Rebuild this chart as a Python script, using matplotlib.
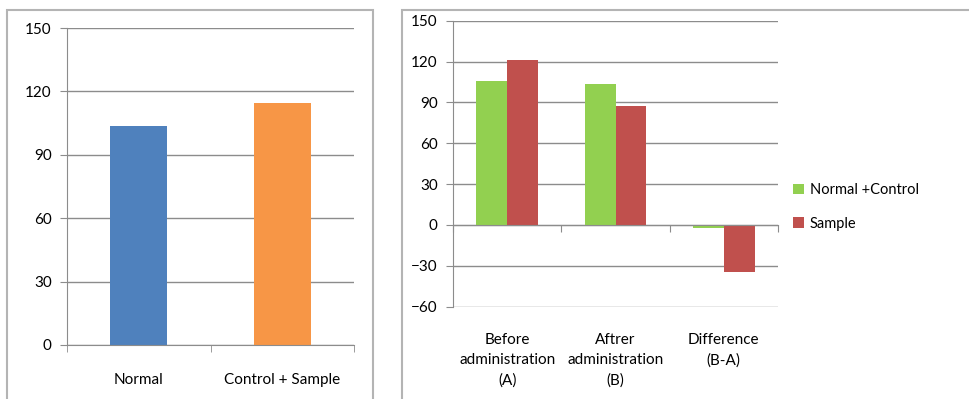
import matplotlib.pyplot as plt
from matplotlib.patches import Rectangle, Patch

# left chart: single series
left_cats = ["Normal", "Control + Sample"]
left_vals = [103.5, 114.5]
left_colors = ["#4F81BD", "#F79646"]

# right chart: two series per group
right_cats = ["Before\nadministration\n(A)", "Aftrer\nadministration\n(B)", "Difference\n(B-A)"]
normal_control = [106, 103.5, -2.5]
sample = [121.5, 87, -34.5]
series_names = ["Normal +Control", "Sample"]
series_colors = ["#92D050", "#C0504D"]

left_yticks = [0, 30, 60, 90, 120, 150]
right_yticks = [-60, -30, 0, 30, 60, 90, 120, 150]

GRID = "#8C8C8C"
AXIS = "#8C8C8C"
FRAME = "#B4B4B4"

plt.rcParams["font.family"] = ["Lato", "DejaVu Sans"]
plt.rcParams["font.size"] = 10.5

fig = plt.figure(figsize=(9.7, 3.99), dpi=100)

# chart frames
fig.add_artist(Rectangle((7 / 970, -0.02), 366 / 970, 1 - 10 / 399 + 0.02,
                         transform=fig.transFigure, fill=False, edgecolor=FRAME, lw=1.5))
fig.add_artist(Rectangle((402 / 970, -0.02), 0.7, 1 - 10 / 399 + 0.02,
                         transform=fig.transFigure, fill=False, edgecolor=FRAME, lw=1.5))


def style_axes(ax, yticks):
    for side in ["top", "right"]:
        ax.spines[side].set_visible(False)
    ax.spines["left"].set_color(AXIS)
    ax.spines["bottom"].set_color(AXIS)
    ax.set_yticks(yticks)
    ax.set_ylim(yticks[0], yticks[-1])
    ax.yaxis.grid(True, color=GRID, lw=1)
    ax.set_axisbelow(True)
    ax.tick_params(axis="y", direction="out", length=5, color=AXIS, colors="#000000",
                   pad=6, labelsize=11)


# left chart
ax1 = fig.add_axes([67 / 970, 54 / 399, 287 / 970, 317 / 399])
x1 = range(len(left_cats))
ax1.bar(x1, left_vals, width=0.4, color=left_colors, zorder=2)
style_axes(ax1, left_yticks)
ax1.set_xlim(-0.5, len(left_cats) - 0.5)
ax1.set_xticks([i - 0.5 for i in range(len(left_cats) + 1)], minor=True)
ax1.set_xticks(list(x1))
ax1.set_xticklabels(left_cats)
ax1.tick_params(axis="x", which="major", length=0, pad=20, colors="#000000", labelsize=11)
ax1.tick_params(axis="x", which="minor", direction="out", length=5, color=AXIS)

# right chart
ax2 = fig.add_axes([453 / 970, 92.3 / 399, 325 / 970, 286 / 399])
w = 0.285
x2 = list(range(len(right_cats)))
ax2.bar([i - w / 2 for i in x2], normal_control, width=w, color=series_colors[0], zorder=2)
ax2.bar([i + w / 2 for i in x2], sample, width=w, color=series_colors[1], zorder=2)
style_axes(ax2, right_yticks)
ax2.set_xlim(-0.5, len(right_cats) - 0.5)
ax2.spines["bottom"].set_position(("data", 0))
ax2.spines["bottom"].set_zorder(3)
ax2.set_xticks([i - 0.5 for i in range(len(right_cats) + 1)])
ax2.set_xticklabels([])
ax2.tick_params(axis="x", direction="out", length=5, color=AXIS)

sec = ax2.secondary_xaxis("bottom")
sec.set_xticks(x2)
sec.set_xticklabels(right_cats)
sec.spines["bottom"].set_visible(False)
sec.tick_params(axis="x", length=0, pad=19, colors="#000000", labelsize=11)
for lbl in sec.get_xticklabels():
    lbl.set_linespacing(1.55)

handles = [Patch(facecolor=c, edgecolor="none") for c in series_colors]
fig.legend(handles, series_names, loc="center left", bbox_to_anchor=(786 / 970, 1 - 207 / 399),
           frameon=False, handlelength=0.75, handleheight=0.75, handletextpad=0.4,
           labelspacing=1.35, borderpad=0, fontsize=10.5)

fig.savefig("out.png", dpi=100)
